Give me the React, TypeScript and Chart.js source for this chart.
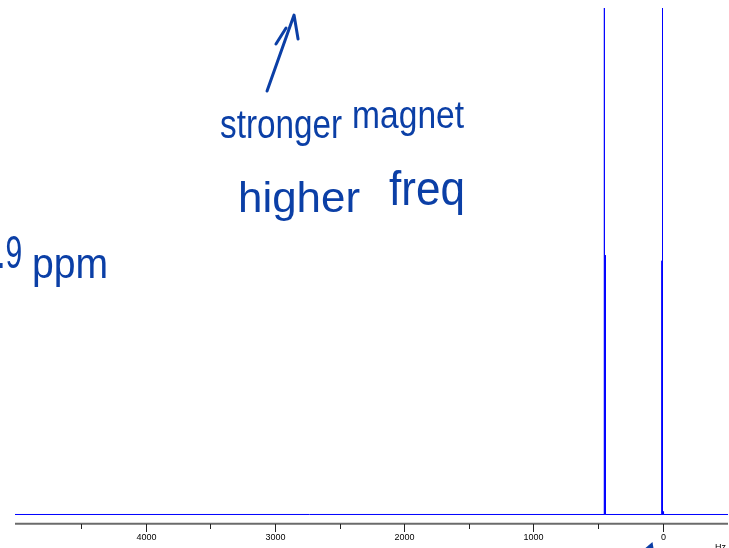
import React, { useEffect, useRef } from "react";
import { Chart, registerables } from "chart.js";

Chart.register(...registerables);

// Spectrum sticks: frequency offset (Hz) and intensity (arbitrary units)
const peakHz = [450, 442, 5, 0, -8];
const peakHeight = [140, 51.2, 50.1, 140, 0.6];

// Plotted frequency window (drawn high-to-low, as usual for NMR)
const hzMax = 5012;
const hzMin = -507;
const intensityMax = 100;
const intensityMin = -1.876;

// Frequency axis ticks
const majorTicks = [4000, 3000, 2000, 1000, 0];
const majorTickLabels = ["4000", "3000", "2000", "1000", "0"];
const minorTicks = [4500, 3500, 2500, 1500, 500];
const axisUnit = "Hz";

// Hand-written notes, placed in (Hz, intensity) space
const noteTexts = [".9", "ppm", "stronger", "magnet", "higher", "freq"];
const noteFromHz = [5151, 4881, 3425, 2403, 3286, 2117];
const noteToHz = [4957, 4292, 2481, 1536, 2341, 1529];
const noteBaseline = [48.7, 46.7, 74.3, 76.3, 59.7, 61.1];
const noteSize = [40, 32, 32, 30, 36, 34];
const noteStretch = [1.15, 1.3, 1.25, 1.3, 1.2, 1.4];

// Hand-drawn arrow strokes: [Hz, intensity] pairs
const arrowShaft: [number, number][] = [
  [3061, 83.6],
  [2852, 98.6],
  [2821, 93.9],
];
const arrowBarb: [number, number][] = [
  [2992, 92.9],
  [2914, 96.05],
];

const INK = "#0b3fa6";
const TRACE = "#0000ff";

function buildSpectrum() {
  const pts: { x: number; y: number }[] = [{ x: hzMax, y: 0 }];
  peakHz.forEach((hz, i) => {
    pts.push({ x: hz, y: 0 });
    pts.push({ x: hz, y: peakHeight[i] });
    pts.push({ x: hz, y: 0 });
  });
  pts.push({ x: hzMin, y: 0 });
  return pts;
}

const overlayPlugin = {
  id: "nmrOverlay",
  afterDraw(chart: any) {
    const { ctx, chartArea, scales } = chart;
    const xs = scales.x;
    const ys = scales.y;
    ctx.save();

    // frequency axis line
    const axisY = chartArea.bottom - 0.3;
    ctx.strokeStyle = "#6b6b6b";
    ctx.lineWidth = 2;
    ctx.beginPath();
    ctx.moveTo(chartArea.left, axisY);
    ctx.lineTo(chartArea.right, axisY);
    ctx.stroke();

    // tick marks
    ctx.strokeStyle = "#222";
    ctx.lineWidth = 1;
    const tick = (v: number, len: number) => {
      const x = Math.round(xs.getPixelForValue(v)) + 0.5;
      ctx.beginPath();
      ctx.moveTo(x, chartArea.bottom);
      ctx.lineTo(x, chartArea.bottom + len);
      ctx.stroke();
    };
    minorTicks.forEach((v) => tick(v, 5));
    majorTicks.forEach((v) => tick(v, 8));

    // tick labels
    ctx.fillStyle = "#000";
    ctx.font = '9px "Liberation Sans", Arial, sans-serif';
    ctx.textAlign = "center";
    ctx.textBaseline = "alphabetic";
    majorTicks.forEach((v, i) => {
      ctx.fillText(majorTickLabels[i], Math.round(xs.getPixelForValue(v)) + 0.5, chartArea.bottom + 16);
    });
    ctx.textAlign = "left";
    ctx.fillText(axisUnit, chartArea.right - 13, chartArea.bottom + 26);

    // hand-written notes
    ctx.fillStyle = INK;
    noteTexts.forEach((t, i) => {
      const left = xs.getPixelForValue(noteFromHz[i]);
      const right = xs.getPixelForValue(noteToHz[i]);
      const base = ys.getPixelForValue(noteBaseline[i]);
      ctx.font = `${noteSize[i]}px "Liberation Sans", Arial, sans-serif`;
      const w = ctx.measureText(t).width;
      ctx.save();
      ctx.translate(left, base);
      ctx.scale((right - left) / w, noteStretch[i]);
      ctx.fillText(t, 0, 0);
      ctx.restore();
    });

    // hand-drawn arrow
    ctx.strokeStyle = INK;
    ctx.lineWidth = 3;
    ctx.lineCap = "round";
    ctx.lineJoin = "round";
    [arrowShaft, arrowBarb].forEach((stroke) => {
      ctx.beginPath();
      stroke.forEach(([hz, v], k) => {
        const x = xs.getPixelForValue(hz);
        const y = ys.getPixelForValue(v);
        if (k === 0) ctx.moveTo(x, y);
        else ctx.lineTo(x, y);
      });
      ctx.stroke();
    });

    // tip of a second arrow entering from below
    const tipX = xs.getPixelForValue(70);
    const h = chart.height;
    ctx.fillStyle = INK;
    ctx.beginPath();
    ctx.moveTo(tipX - 8, h);
    ctx.lineTo(tipX - 1, h - 6);
    ctx.lineTo(tipX, h);
    ctx.closePath();
    ctx.fill();

    ctx.restore();
  },
};

export default function App() {
  const canvasRef = useRef<HTMLCanvasElement | null>(null);

  useEffect(() => {
    if (!canvasRef.current) return;
    const chart = new Chart(canvasRef.current, {
      type: "line",
      data: {
        datasets: [
          {
            data: buildSpectrum(),
            borderColor: TRACE,
            borderWidth: 1,
            pointRadius: 0,
            fill: false,
            tension: 0,
          },
        ],
      },
      options: {
        animation: false,
        responsive: false,
        events: [],
        layout: { padding: { left: 15, right: 1, top: 8, bottom: 24 } },
        scales: {
          x: { type: "linear", display: false, reverse: true, min: hzMin, max: hzMax },
          y: { type: "linear", display: false, min: intensityMin, max: intensityMax },
        },
        plugins: {
          legend: { display: false },
          tooltip: { enabled: false },
        },
      },
      plugins: [overlayPlugin],
    });
    return () => chart.destroy();
  }, []);

  return (
    <div
      style={{
        position: "fixed",
        left: 0,
        top: 0,
        width: 729,
        height: 548,
        background: "#fff",
        overflow: "hidden",
      }}
    >
      <canvas ref={canvasRef} width={729} height={548} style={{ display: "block" }} />
    </div>
  );
}
